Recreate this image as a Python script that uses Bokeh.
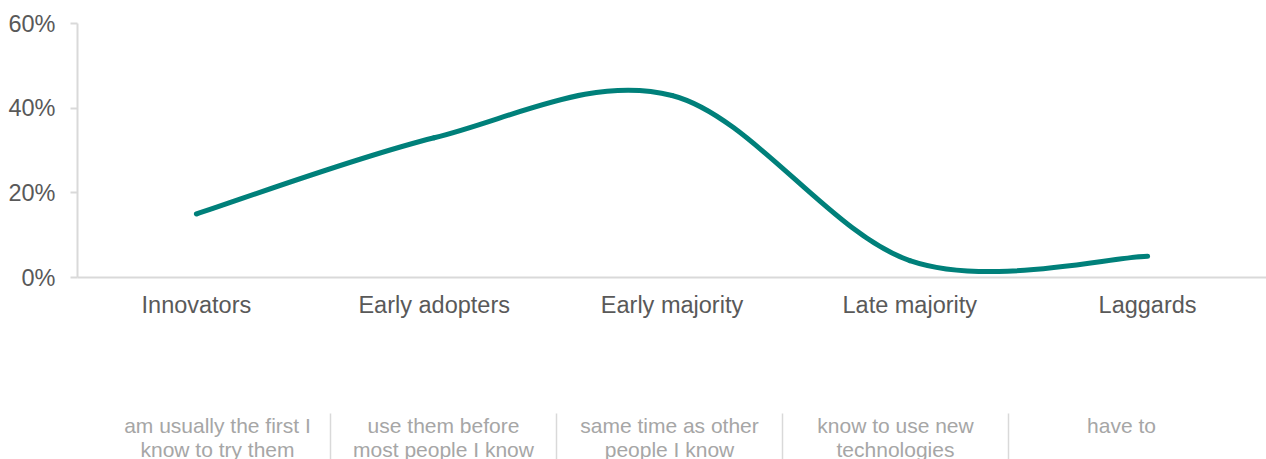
from bokeh.plotting import figure
from bokeh.layouts import column
from bokeh.models import Range1d, FixedTicker, PrintfTickFormatter
from bokeh.core.properties import value
from bokeh.embed import file_html
from bokeh.resources import INLINE

# Adoption profile: share of respondents per category (percent)
categories = ["Innovators", "Early adopters", "Early majority", "Late majority", "Laggards"]
share = [15, 33, 43, 4, 5]
y_ticks = [0, 20, 40, 60]
descriptions = [
    "am usually the first I\nknow to try them",
    "use them before\nmost people I know",
    "same time as other\npeople I know",
    "know to use new\ntechnologies",
    "have to",
]

FONT = "Liberation Sans"
TEAL = "#00807A"
AXIS_GREY = "#D9D9D9"
LABEL_GREY = "#595959"
DESC_GREY = "#A6A6A6"

WIDTH = 1266
LEFT = 77          # left border shared by both panels
x_pos = [i + 0.5 for i in range(len(categories))]


def smooth_segments(xv, yv):
    """Cubic Bezier pieces through every point (Catmull-Rom tangents)."""
    n = len(xv)
    segs = {k: [] for k in ("x0", "y0", "x1", "y1", "cx0", "cy0", "cx1", "cy1")}
    for i in range(n - 1):
        p = max(i - 1, 0)
        q = min(i + 2, n - 1)
        segs["x0"].append(xv[i])
        segs["y0"].append(yv[i])
        segs["x1"].append(xv[i + 1])
        segs["y1"].append(yv[i + 1])
        segs["cx0"].append(xv[i] + (xv[i + 1] - xv[p]) / 6)
        segs["cy0"].append(yv[i] + (yv[i + 1] - yv[p]) / 6)
        segs["cx1"].append(xv[i + 1] - (xv[q] - xv[i]) / 6)
        segs["cy1"].append(yv[i + 1] - (yv[q] - yv[i]) / 6)
    return segs


# ---- main chart -------------------------------------------------------
p = figure(
    width=WIDTH, height=400,
    x_range=Range1d(0, len(categories)), y_range=Range1d(0, 60),
    output_backend="svg", toolbar_location=None,
    min_border_left=LEFT, min_border_right=0, min_border_top=23, min_border_bottom=123,
)
p.outline_line_color = None
p.xgrid.visible = False
p.ygrid.visible = False
p.background_fill_color = "white"
p.border_fill_color = "white"

seg = smooth_segments(x_pos, share)
p.bezier(line_color=TEAL, line_width=5, line_cap="round", **seg)

# y axis
p.yaxis.ticker = FixedTicker(ticks=y_ticks)
p.yaxis.formatter = PrintfTickFormatter(format="%d%%")
p.yaxis.axis_line_color = AXIS_GREY
p.yaxis.axis_line_width = 2
p.yaxis.major_tick_line_color = AXIS_GREY
p.yaxis.major_tick_line_width = 2
p.yaxis.major_tick_out = 7
p.yaxis.major_tick_in = 0
p.yaxis.minor_tick_line_color = None
p.yaxis.major_label_standoff = 15
p.yaxis.major_label_text_font = FONT
p.yaxis.major_label_text_font_size = "23.5px"
p.yaxis.major_label_text_color = LABEL_GREY

# x axis with category names
p.xaxis.ticker = FixedTicker(ticks=x_pos)
p.xaxis.major_label_overrides = {x: c for x, c in zip(x_pos, categories)}
p.xaxis.axis_line_color = AXIS_GREY
p.xaxis.axis_line_width = 2
p.xaxis.major_tick_line_color = None
p.xaxis.minor_tick_line_color = None
p.xaxis.major_tick_out = 0
p.xaxis.major_tick_in = 0
p.xaxis.major_label_standoff = 14
p.xaxis.major_label_text_font = FONT
p.xaxis.major_label_text_font_size = "23.5px"
p.xaxis.major_label_text_color = LABEL_GREY

# ---- description strip -----------------------------------------------
# The strip spans 104..1234 px on the page; its range is widened so the
# five columns land there while sharing the main chart's borders.
strip_left, strip_right = 104, 1234
unit = (strip_right - strip_left) / len(descriptions)
d = figure(
    width=WIDTH, height=59,
    x_range=Range1d(-(strip_left - LEFT) / unit, len(descriptions) + (WIDTH - strip_right) / unit),
    y_range=Range1d(59, 0),
    output_backend="svg", toolbar_location=None,
    min_border_left=LEFT, min_border_right=0, min_border_top=0, min_border_bottom=0,
)
d.outline_line_color = None
d.xgrid.visible = False
d.ygrid.visible = False
d.xaxis.visible = False
d.yaxis.visible = False
d.background_fill_color = "white"
d.border_fill_color = "white"

sep_x = list(range(1, len(descriptions)))
d.segment(x0=sep_x, y0=13, x1=sep_x, y1=59, line_color=AXIS_GREY, line_width=1.5)
d.text(
    x=x_pos, y=13, text=descriptions,
    text_font=value(FONT), text_font_size="21px", text_color=DESC_GREY,
    text_align="center", text_baseline="top", text_line_height=1.07,
)

layout = column(p, d, spacing=0)
open("out.html", "w").write(file_html(layout, INLINE))
